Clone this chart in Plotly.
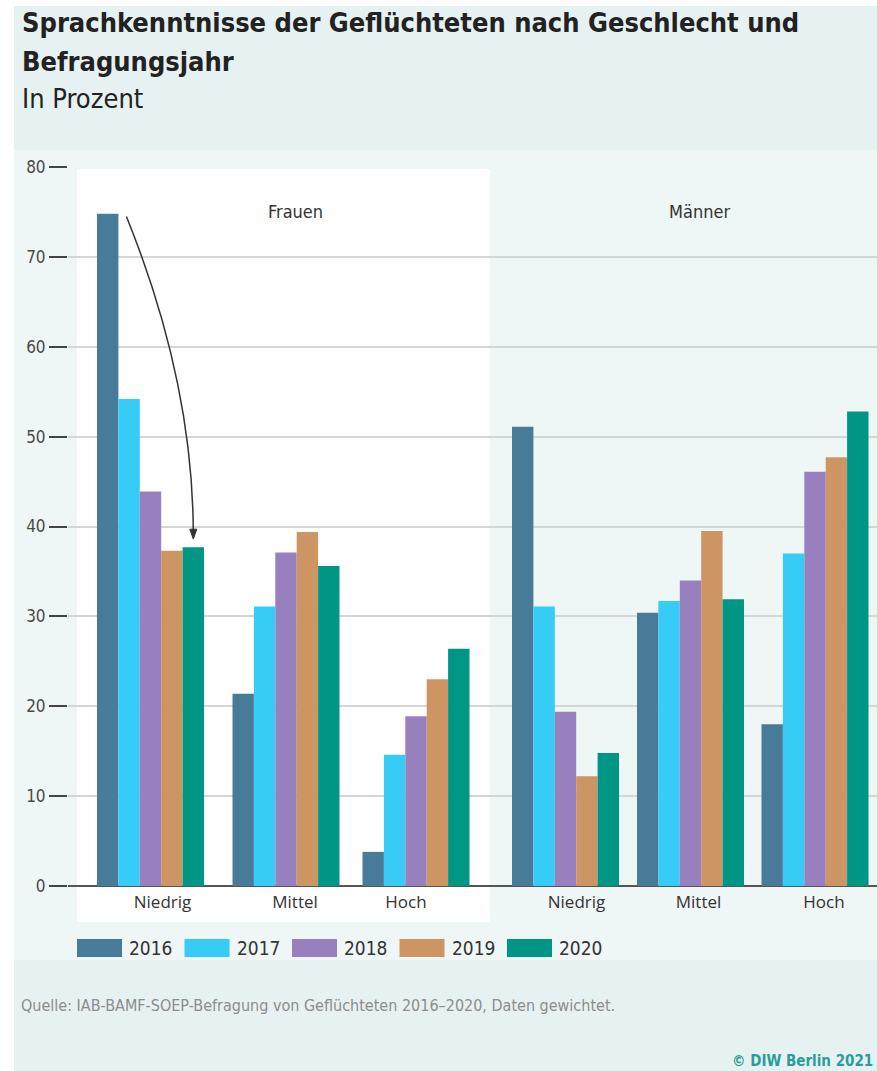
import plotly.graph_objects as go

# ---------------- data ----------------
years = ["2016", "2017", "2018", "2019", "2020"]
genders = ["Frauen", "Männer"]
levels = ["Niedrig", "Mittel", "Hoch"]

# values per year, order: Frauen (Niedrig, Mittel, Hoch), Männer (Niedrig, Mittel, Hoch)
v2016 = [74.8, 21.4, 3.8, 51.1, 30.4, 18.0]
v2017 = [54.2, 31.1, 14.6, 31.1, 31.7, 37.0]
v2018 = [43.9, 37.1, 18.9, 19.4, 34.0, 46.1]
v2019 = [37.3, 39.4, 23.0, 12.2, 39.5, 47.7]
v2020 = [37.7, 35.6, 26.4, 14.8, 31.9, 52.8]
series = [v2016, v2017, v2018, v2019, v2020]

y_ticks = [0, 10, 20, 30, 40, 50, 60, 70, 80]

colors = ["#477B97", "#36CCF5", "#9880BF", "#CC9563", "#009686"]

# ---------------- layout geometry (not data) ----------------
W, H = 877, 1071
ML, MR, MT, MB = 68, 0, 167, 185
PW, PH = W - ML - MR, H - MT - MB

# horizontal layout: x-axis measured in layout units (1 unit = 1 px of plot width)
group_centers = [150.5, 286.0, 416.0, 565.5, 690.5, 815.0]
label_shift = [12, 9, -10, 11, 8, 9]
BAR_W = 21.4
x_range = [ML, W - MR]


def px2x(px):
    return (px - ML) / PW


def px2y(py):
    return (MT + PH - py) / PH


COND = "DejaVu Sans Condensed, Liberation Sans Narrow, sans-serif"
REG = "Open Sans, Noto Sans, sans-serif"

fig = go.Figure()
n = len(years)
for k, (yr, vals, c) in enumerate(zip(years, series, colors)):
    fig.add_trace(go.Bar(
        x=group_centers, y=vals, name=yr,
        width=BAR_W, offset=-BAR_W * n / 2 + k * BAR_W,
        marker=dict(color=c, line=dict(width=0)),
        showlegend=False,
    ))

shapes = []
# page background (darker teal)
shapes.append(dict(type="rect", xref="paper", yref="paper",
                   x0=px2x(14), x1=px2x(W + 5), y0=px2y(H + 5), y1=px2y(6),
                   fillcolor="#E6F2F2", line=dict(width=0), layer="below"))
# chart panel (lighter)
shapes.append(dict(type="rect", xref="paper", yref="paper",
                   x0=px2x(14), x1=px2x(W + 5), y0=px2y(960), y1=px2y(150),
                   fillcolor="#EEF6F6", line=dict(width=0), layer="below"))
# Frauen panel (white)
shapes.append(dict(type="rect", xref="paper", yref="paper",
                   x0=px2x(77), x1=px2x(490), y0=px2y(922), y1=px2y(169),
                   fillcolor="#FFFFFF", line=dict(width=0), layer="below"))

# curved arrow (Frauen, Niedrig 2016 -> 2020)
ax0 = group_centers[0] + (-BAR_W * n / 2 + 1 * BAR_W) + 8
ax1 = group_centers[0] + (-BAR_W * n / 2 + 4.5 * BAR_W)
ay0 = v2016[0] - 0.3
ay1 = v2020[0] + 1.4
ctrl_y = ay1 + 17.0
shapes.append(dict(type="path", xref="x", yref="y",
                   path=f"M {ax0},{ay0} Q {ax1},{ctrl_y} {ax1},{ay1}",
                   line=dict(color="#333333", width=1.5)))
hw = 3.5
shapes.append(dict(type="path", xref="x", yref="y",
                   path=f"M {ax1 - hw},{ay1 + 0.6} L {ax1 + hw},{ay1 + 0.6} L {ax1},{ay1 - 0.5} Z",
                   fillcolor="#333333", line=dict(color="#333333", width=1)))

annotations = []
# title
annotations.append(dict(xref="paper", yref="paper", x=px2x(20), y=px2y(23),
                        xanchor="left", yanchor="middle", showarrow=False,
                        text="<b>Sprachkenntnisse der Geflüchteten nach Geschlecht und</b>",
                        font=dict(family=COND, size=27, color="#222222")))
annotations.append(dict(xref="paper", yref="paper", x=px2x(20), y=px2y(61),
                        xanchor="left", yanchor="middle", showarrow=False,
                        text="<b>Befragungsjahr</b>",
                        font=dict(family=COND, size=27, color="#222222")))
annotations.append(dict(xref="paper", yref="paper", x=px2x(20), y=px2y(99),
                        xanchor="left", yanchor="middle", showarrow=False,
                        text="In Prozent",
                        font=dict(family=COND, size=27, color="#222222")))
# panel labels
for gi, g in enumerate(genders):
    cx = group_centers[gi * len(levels) + 1]
    annotations.append(dict(xref="x", yref="paper", x=cx + 9, y=px2y(211),
                            xanchor="center", yanchor="middle", showarrow=False,
                            text=g, font=dict(family=COND, size=18, color="#333333")))
# legend (custom swatches)
for k, (yr, c) in enumerate(zip(years, colors)):
    lx = 77 + k * 107.5
    shapes.append(dict(type="rect", xref="paper", yref="paper",
                       x0=px2x(lx), x1=px2x(lx + 45), y0=px2y(957), y1=px2y(939),
                       fillcolor=c, line=dict(width=0)))
    annotations.append(dict(xref="paper", yref="paper", x=px2x(lx + 50), y=px2y(948),
                            xanchor="left", yanchor="middle", showarrow=False,
                            text=yr, font=dict(family=COND, size=19, color="#333333")))
# source + copyright
annotations.append(dict(xref="paper", yref="paper", x=px2x(19), y=px2y(1005),
                        xanchor="left", yanchor="middle", showarrow=False,
                        text="Quelle: IAB-BAMF-SOEP-Befragung von Geflüchteten 2016–2020, Daten gewichtet.",
                        font=dict(family=COND, size=16, color="#8C8C8C")))
annotations.append(dict(xref="paper", yref="paper", x=px2x(875), y=px2y(1061),
                        xanchor="right", yanchor="middle", showarrow=False,
                        text="<b>© DIW Berlin 2021</b>",
                        font=dict(family=COND, size=15, color="#2A9D9A")))

fig.update_layout(
    width=W, height=H,
    margin=dict(l=ML, r=MR, t=MT, b=MB, pad=0),
    paper_bgcolor="#FFFFFF",
    plot_bgcolor="rgba(0,0,0,0)",
    barmode="overlay",
    showlegend=False,
    shapes=shapes,
    annotations=annotations,
    xaxis=dict(range=x_range, tickmode="array",
               tickvals=[p + s for p, s in zip(group_centers, label_shift)],
               ticktext=levels * len(genders),
               showgrid=False, zeroline=False, showline=False, ticks="",
               ticklabelstandoff=4,
               tickfont=dict(family=REG, size=17, color="#333333"),
               fixedrange=True),
    yaxis=dict(range=[0, 80], tickmode="array", tickvals=y_ticks,
               ticks="outside", ticklen=18, tickwidth=2, tickcolor="#444444",
               showgrid=True, gridcolor="#D4D6D6", gridwidth=1.5,
               zeroline=True, zerolinecolor="#555555", zerolinewidth=2,
               showline=False,
               tickfont=dict(family=COND, size=17, color="#4A4A4A"),
               fixedrange=True),
)

fig.write_html("out.html")
